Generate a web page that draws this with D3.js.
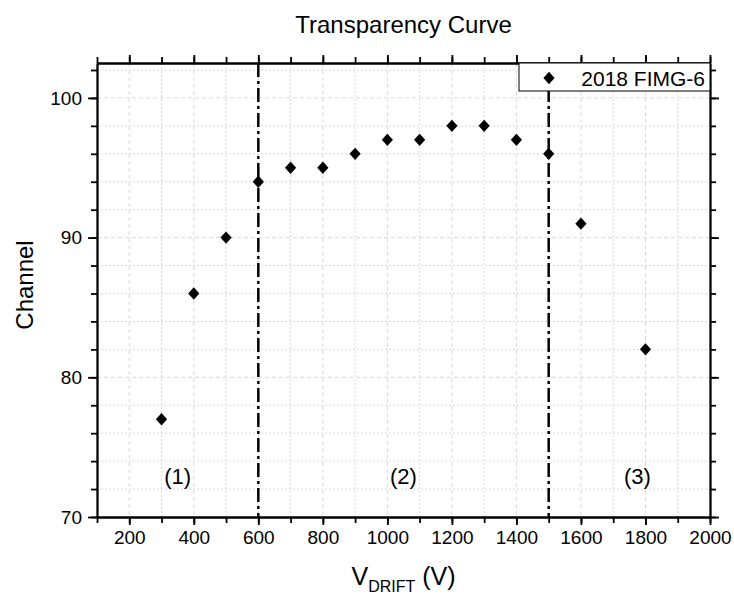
<!DOCTYPE html>
<html>
<head>
<meta charset="utf-8">
<script src="https://cdn.jsdelivr.net/npm/d3@7"></script>
<style>
  body { margin: 0; background: #fff; }
  text { font-family: "Liberation Sans", Arial, sans-serif; fill: #000; }
</style>
</head>
<body>
<div id="chart"></div>
<script>
// data
var voltage = [300, 400, 500, 600, 700, 800, 900, 1000, 1100, 1200, 1300, 1400, 1500, 1600, 1800];
var channel = [77, 86, 90, 94, 95, 95, 96, 97, 97, 98, 98, 97, 96, 91, 82];
var seriesName = "2018 FIMG-6";
var regionBounds = [600, 1500];
var regionLabels = ["(1)", "(2)", "(3)"];
var regionLabelX = [350, 1050, 1775];
var regionLabelY = 72.9;

var svgWidth = 734;
var svgHeight = 595;
var margin = { top: 63, right: 24, bottom: 78, left: 97 };
var width = svgWidth - margin.left - margin.right;
var height = svgHeight - margin.top - margin.bottom;

var svg = d3.select("#chart").append("svg")
  .attr("width", svgWidth)
  .attr("height", svgHeight);

var chartGroup = svg.append("g")
  .attr("transform", `translate(${margin.left}, ${margin.top})`);

var x = d3.scaleLinear().domain([100, 2000]).range([0, width]);
var y = d3.scaleLinear().domain([70, 102.5]).range([height, 0]);

var xMinor = d3.range(100, 2001, 100);
var xMajor = d3.range(200, 2001, 200);
var yMinor = d3.range(70, 103, 2);
var yMajor = [70, 80, 90, 100];

// grid
chartGroup.append("g").selectAll("line").data(xMinor.filter(d => d > 100 && d < 2000)).enter()
  .append("line")
  .attr("x1", d => x(d)).attr("x2", d => x(d))
  .attr("y1", 0).attr("y2", height)
  .attr("stroke", "#d9d9d9")
  .attr("stroke-dasharray", d => d % 200 === 0 ? "4,3" : "2,2");

chartGroup.append("g").selectAll("line").data(yMinor.filter(d => d > 70)).enter()
  .append("line")
  .attr("x1", 0).attr("x2", width)
  .attr("y1", d => y(d)).attr("y2", d => y(d))
  .attr("stroke", "#d9d9d9")
  .attr("stroke-dasharray", d => d % 10 === 0 ? "4,3" : "2,2");

// axes: major + minor ticks on all four sides
function styleAxis(g) {
  g.attr("font-size", 19).attr("font-family", "Liberation Sans, Arial, sans-serif");
  g.selectAll("path").attr("stroke", "#000").attr("stroke-width", 1.8);
  g.selectAll("line").attr("stroke", "#000").attr("stroke-width", 1.8);
}

chartGroup.append("g").attr("transform", `translate(0, ${height})`)
  .call(d3.axisBottom(x).tickValues(xMinor).tickSize(6).tickFormat("").tickSizeOuter(0))
  .call(styleAxis);
chartGroup.append("g").attr("transform", `translate(0, ${height})`)
  .call(d3.axisBottom(x).tickValues(xMajor).tickSize(8).tickPadding(6).tickFormat(d3.format("d")).tickSizeOuter(0))
  .call(styleAxis);

chartGroup.append("g")
  .call(d3.axisTop(x).tickValues(xMinor).tickSize(6).tickFormat("").tickSizeOuter(0))
  .call(styleAxis);
chartGroup.append("g")
  .call(d3.axisTop(x).tickValues(xMajor).tickSize(8).tickFormat("").tickSizeOuter(0))
  .call(styleAxis);

chartGroup.append("g")
  .call(d3.axisLeft(y).tickValues(yMinor).tickSize(6).tickFormat("").tickSizeOuter(0))
  .call(styleAxis);
chartGroup.append("g")
  .call(d3.axisLeft(y).tickValues(yMajor).tickSize(9).tickPadding(6).tickFormat(d3.format("d")).tickSizeOuter(0))
  .call(styleAxis);

chartGroup.append("g").attr("transform", `translate(${width}, 0)`)
  .call(d3.axisRight(y).tickValues(yMinor).tickSize(6).tickFormat("").tickSizeOuter(0))
  .call(styleAxis);
chartGroup.append("g").attr("transform", `translate(${width}, 0)`)
  .call(d3.axisRight(y).tickValues(yMajor).tickSize(9).tickFormat("").tickSizeOuter(0))
  .call(styleAxis);

// region separators
chartGroup.append("g").selectAll("line").data(regionBounds).enter()
  .append("line")
  .attr("x1", d => x(d)).attr("x2", d => x(d))
  .attr("y1", 0).attr("y2", height)
  .attr("stroke", "#000")
  .attr("stroke-width", 2.5)
  .attr("stroke-dasharray", "14,4,3,4");

chartGroup.append("g").selectAll("text").data(regionLabels).enter()
  .append("text")
  .attr("x", (d, i) => x(regionLabelX[i]))
  .attr("y", y(regionLabelY))
  .attr("text-anchor", "middle")
  .attr("dy", "0.35em")
  .style("font-size", "22px")
  .text(d => d);

// points
var diamond = d3.symbol().type(d3.symbolDiamond2).size(80);
chartGroup.append("g").selectAll("path").data(voltage).enter()
  .append("path")
  .attr("d", diamond)
  .attr("transform", (d, i) => `translate(${x(d)}, ${y(channel[i])}) scale(1, 1.1)`)
  .attr("fill", "#000");

// legend
var legend = chartGroup.append("g").attr("transform", `translate(${width - 191}, 0)`);
legend.append("rect")
  .attr("width", 191).attr("height", 28)
  .attr("fill", "#fff").attr("stroke", "#000").attr("stroke-width", 1);
legend.append("path")
  .attr("d", diamond)
  .attr("transform", "translate(30, 15) scale(1, 1.1)")
  .attr("fill", "#000");
legend.append("text")
  .attr("x", 186).attr("y", 15).attr("dy", "0.36em")
  .attr("text-anchor", "end")
  .style("font-size", "21px")
  .text(seriesName);

// titles
svg.append("text")
  .attr("x", margin.left + width / 2).attr("y", 33)
  .attr("text-anchor", "middle")
  .style("font-size", "24px")
  .text("Transparency Curve");

svg.append("text")
  .attr("transform", "rotate(-90)")
  .attr("x", -(margin.top + height / 2) + 5).attr("y", 33)
  .attr("text-anchor", "middle")
  .style("font-size", "24px")
  .text("Channel");

var xl = svg.append("text")
  .attr("x", margin.left + width / 2).attr("y", 585)
  .attr("text-anchor", "middle")
  .style("font-size", "25px");
xl.append("tspan").text("V");
xl.append("tspan").attr("dy", 7).style("font-size", "16px").text("DRIFT");
xl.append("tspan").attr("dy", -7).text(" (V)");
</script>
</body>
</html>
